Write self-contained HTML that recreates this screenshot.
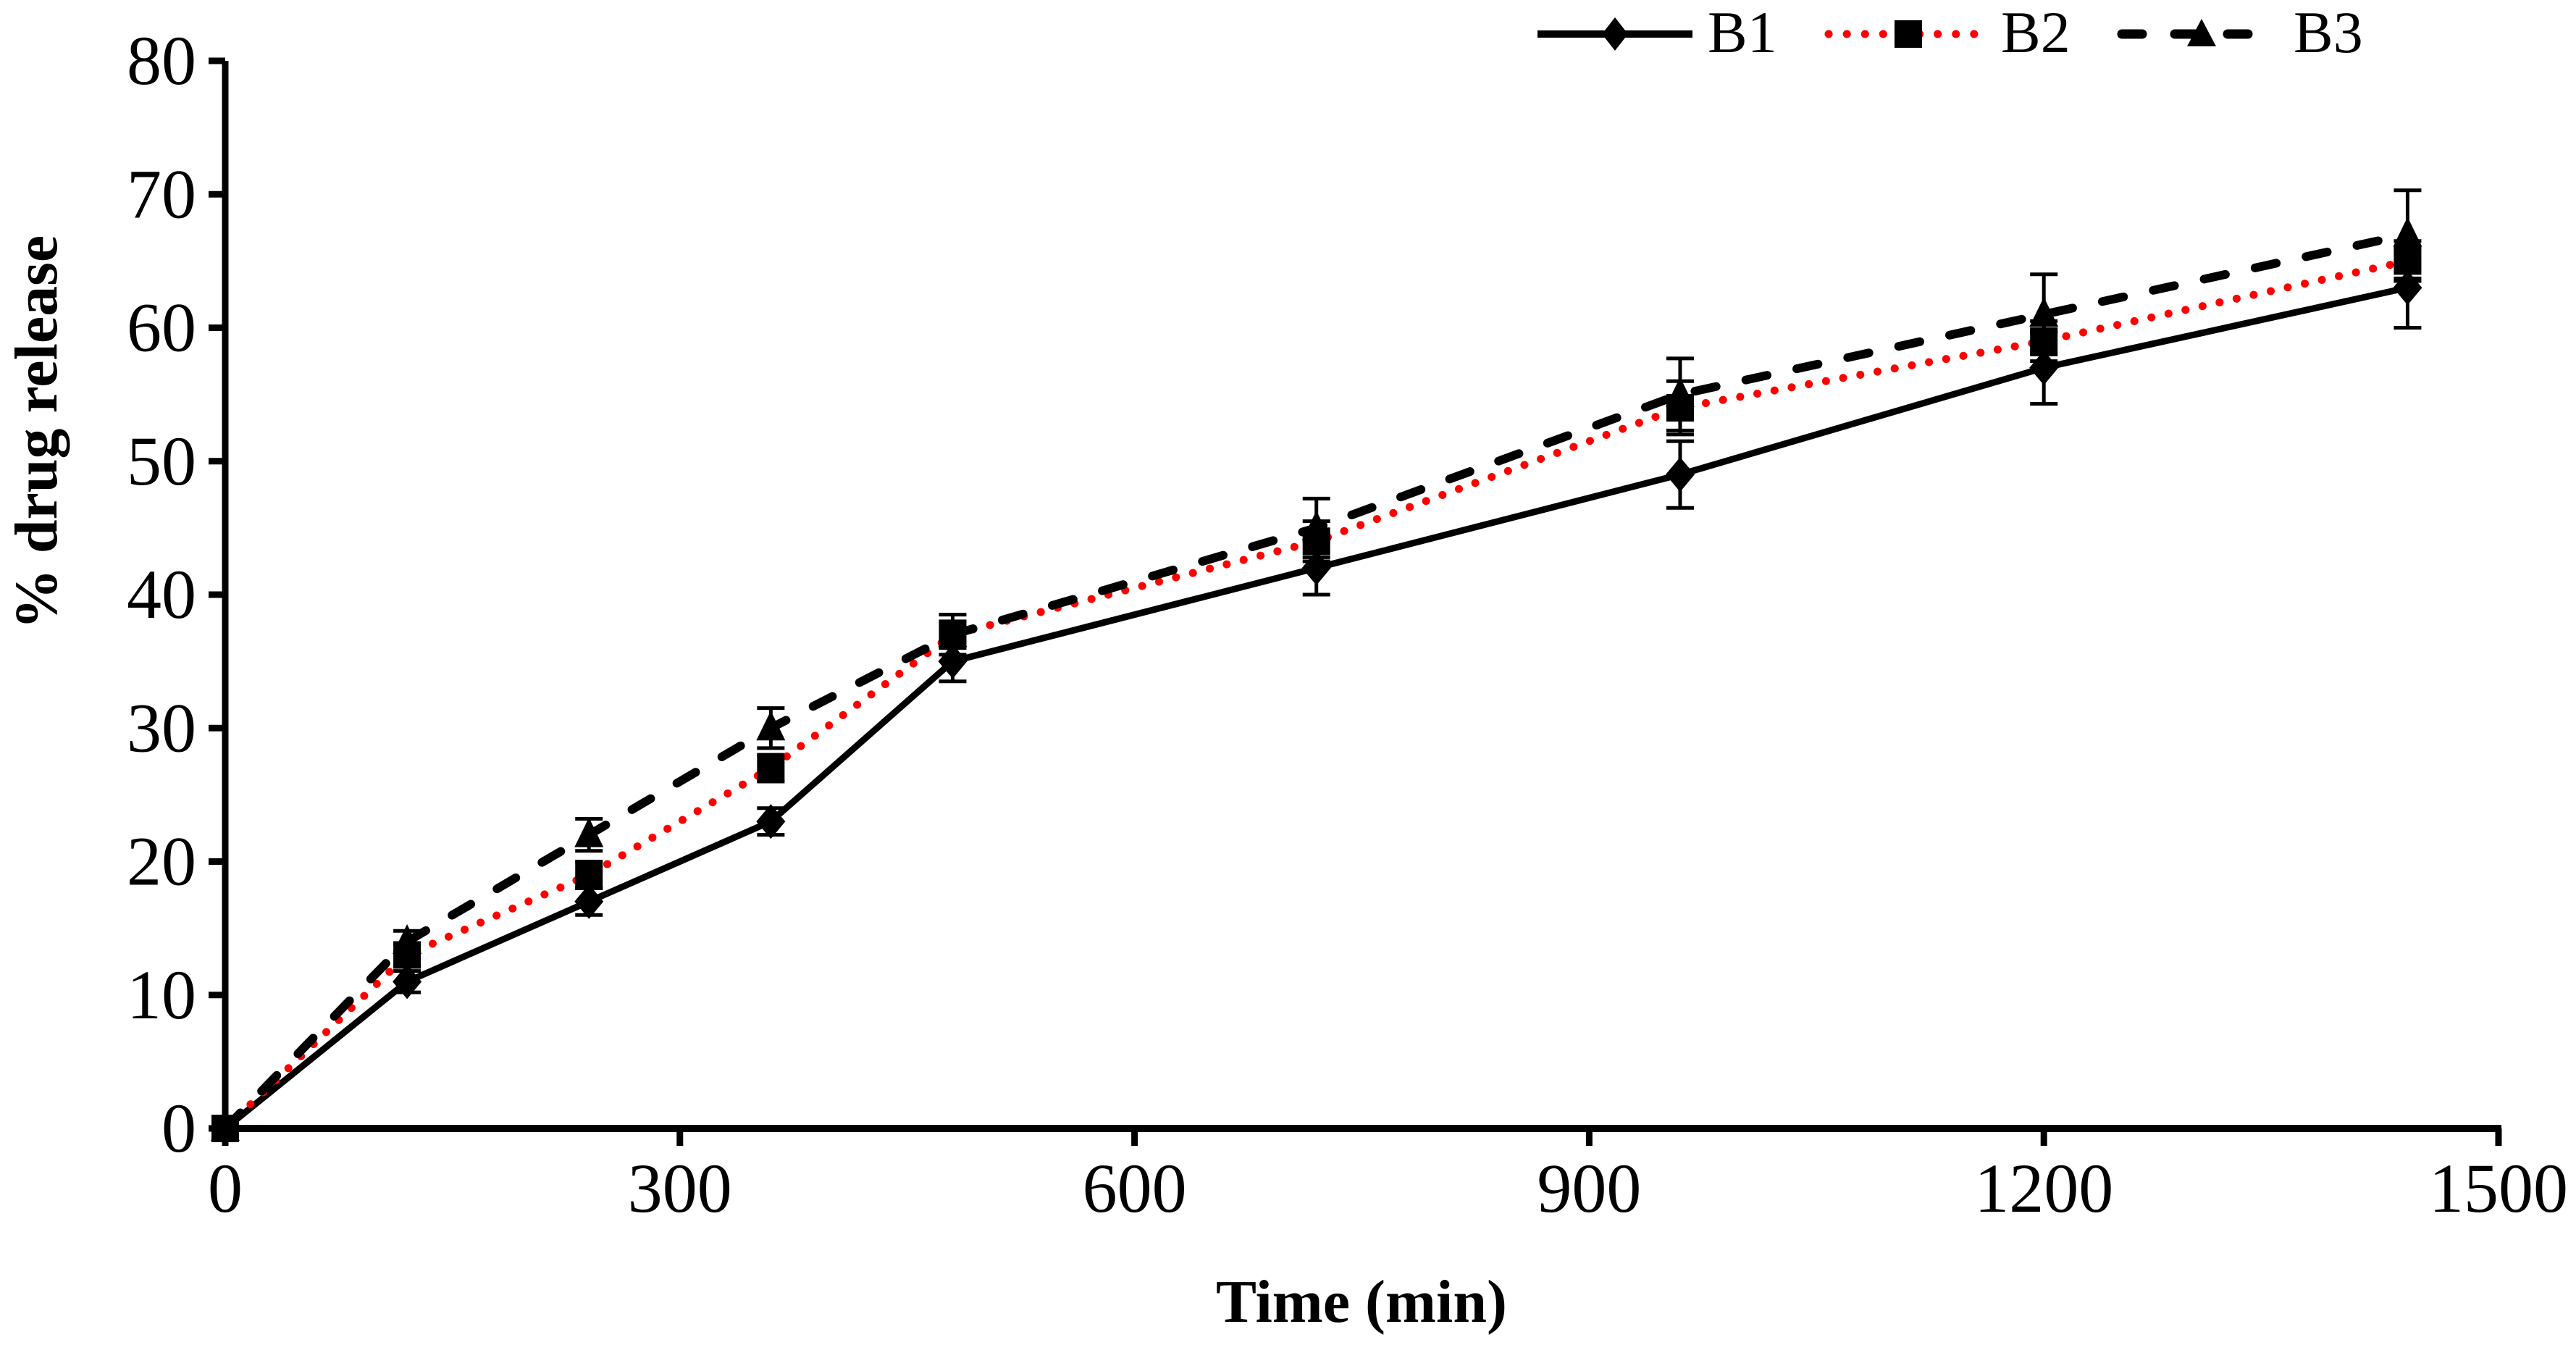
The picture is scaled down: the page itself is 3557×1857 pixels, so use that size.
<!DOCTYPE html>
<html><head><meta charset="utf-8"><style>
html,body{margin:0;padding:0;background:#fff}
svg{display:block;font-family:"Liberation Serif","Times New Roman",serif}
</style></head><body>
<svg id="chart" width="3557" height="1857" viewBox="0 0 3557 1857" xmlns="http://www.w3.org/2000/svg">
<g id="axes"></g>
<g id="series"></g>
<text x="1880" y="1825" font-size="84" font-weight="bold" text-anchor="middle">Time (min)</text>
<text transform="translate(78,597) rotate(-90)" font-size="84" font-weight="bold" text-anchor="middle">% drug release</text>
<g>
  <g>
    <line x1="2123" y1="47" x2="2337" y2="47" stroke="#000" stroke-width="10"/>
    <polygon points="2230,24 2248,47 2230,70 2212,47" fill="#000"/>
    <text x="2358" y="72" font-size="82">B1</text>
  </g>
  <g>
    <line x1="2525" y1="47" x2="2737" y2="47" stroke="#ff0000" stroke-width="11" stroke-linecap="round" stroke-dasharray="0.1 25"/>
    <rect x="2616" y="28" width="38" height="38" fill="#000"/>
    <text x="2763" y="72" font-size="82">B2</text>
  </g>
  <g>
    <line x1="2930" y1="47" x2="3115" y2="47" stroke="#000" stroke-width="13" stroke-linecap="round" stroke-dasharray="28 45"/>
    <polygon points="3040,26 3060,64 3020,64" fill="#000"/>
    <text x="3167" y="72" font-size="82">B3</text>
  </g>
</g>
</svg>
<script>
const times = [0,120,240,360,480,720,960,1200,1440];
const b1 = [0,11,17,23,35,42,49,57,63];
const b2 = [0,13,19,27,37,44,54,59,65];
const b3 = [0,14,22,30,37,45,55,61,67];
const b1Err = [0.5,0.8,1,1,1.5,2,2.5,2.7,3];
const b2Err = [0.5,0.8,1,1,1,1.5,2,1.5,1.5];
const b3Err = [0.5,0.8,1.2,1.5,1.5,2.2,2.7,3,3.3];
const xTicks = [0,300,600,900,1200,1500];
const yTicks = [0,10,20,30,40,50,60,70,80];

const X0=311, X1=3450, Y0=1558, Y1=84;
function xs(v){return X0+(v/1500)*(X1-X0);}
function ys(v){return Y0-(v/80)*(Y0-Y1);}
const NS="http://www.w3.org/2000/svg";
function mk(tag,attrs,parent){const e=document.createElementNS(NS,tag);for(const k in attrs)e.setAttribute(k,attrs[k]);parent.appendChild(e);return e;}
const axes=document.getElementById('axes');
const yl=mk('line',{x1:X0,y1:Y1,x2:X0,y2:Y0,stroke:'#000','stroke-width':9},axes);


const xl=mk('line',{x1:X0-4,y1:Y0,x2:X1+4,y2:Y0,stroke:'#000','stroke-width':10},axes);


yTicks.forEach(v=>{
  const t=mk('line',{x1:X0-23,y1:ys(v),x2:X0,y2:ys(v),stroke:'#000','stroke-width':9},axes);
  
  
  const l=mk('text',{x:X0-40,y:ys(v)+32,'font-size':96,'text-anchor':'end'},axes);
  
  
  l.textContent=v;
});
xTicks.forEach(v=>{
  const t=mk('line',{x1:xs(v),y1:Y0,x2:xs(v),y2:Y0+24,stroke:'#000','stroke-width':9},axes);
  
  
  const l=mk('text',{x:xs(v),y:Y0+115,'font-size':96,'text-anchor':'middle'},axes);
  
  
  l.textContent=v;
});
const sg=document.getElementById('series');
const defs=[
  {name:'b1',vals:b1,err:b1Err,stroke:'#000',w:9,dash:null,cap:'butt',marker:'diamond'},
  {name:'b2',vals:b2,err:b2Err,stroke:'#ff0000',w:11,dash:'0.1 24',cap:'round',marker:'square'},
  {name:'b3',vals:b3,err:b3Err,stroke:'#000',w:12,dash:'30 42',cap:'round',marker:'triangle'}
];
defs.forEach(s=>{
  const g=mk('g',{},sg);
  
  
  s.vals.forEach((v,i)=>{
    const x=xs(times[i]),yt=ys(v+s.err[i]),yb=ys(v-s.err[i]);
    const e=mk('path',{d:`M${x},${yt}V${yb}M${x-19},${yt}H${x+19}M${x-19},${yb}H${x+19}`,stroke:'#000','stroke-width':5,fill:'none'},g);
    
    
  });
  const pts=s.vals.map((v,i)=>xs(times[i])+','+ys(v)).join(' ');
  const pl=mk('polyline',{points:pts,fill:'none',stroke:s.stroke,'stroke-width':s.w,'stroke-linecap':s.cap,'stroke-linejoin':'round'},g);
  if(s.dash)pl.setAttribute('stroke-dasharray',s.dash);
  
  
  s.vals.forEach((v,i)=>{
    const x=xs(times[i]),y=ys(v);let m;
    if(s.marker==='diamond')m=mk('polygon',{points:`${x},${y-24} ${x+20},${y} ${x},${y+24} ${x-20},${y}`,fill:'#000'},g);
    else if(s.marker==='square')m=mk('rect',{x:x-19,y:y-19,width:38,height:38,fill:'#000'},g);
    else m=mk('polygon',{points:`${x},${y-24} ${x+20},${y+17} ${x-20},${y+17}`,fill:'#000'},g);
    
    
  });
});
</script>
</body></html>
